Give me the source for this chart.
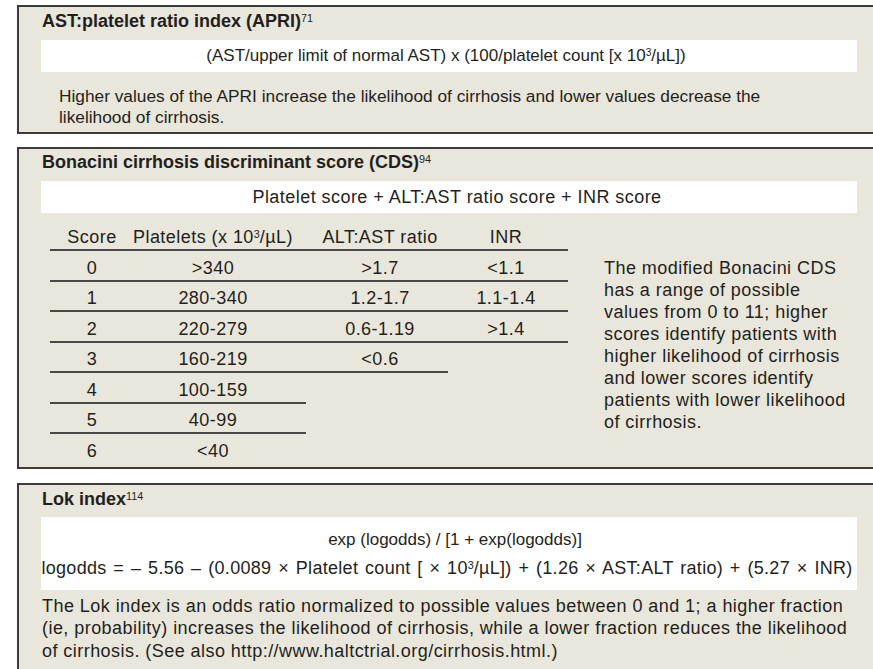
<!DOCTYPE html>
<html>
<head>
<meta charset="utf-8">
<script src="https://cdn.jsdelivr.net/npm/chart.js@4.4.1/dist/chart.umd.min.js"></script>
<style>
  html,body{margin:0;padding:0;background:#fff;}
  body{width:873px;height:669px;position:relative;overflow:hidden;font-family:"Liberation Sans",Arial,sans-serif;color:#231f20;}
  .box{position:absolute;left:17px;width:880px;background:#e9e6db;border:2px solid #3c3b3a;box-sizing:border-box;}
  .band{position:absolute;left:41px;width:816px;background:#fff;}
  .t{position:absolute;white-space:nowrap;line-height:20px;}
  .c{transform:translateX(-50%);text-align:center;}
  sup{font-size:0.6em;vertical-align:top;position:relative;top:-3px;font-weight:normal;letter-spacing:0;}
  .hl{position:absolute;height:2px;background:#4a4847;}
</style>
</head>
<body>
<script>
// ---- data ----
const scores = ["0","1","2","3","4","5","6"];
const platelets = [">340","280-340","220-279","160-219","100-159","40-99","<40"];
const altAstRatio = [">1.7","1.2-1.7","0.6-1.19","<0.6","","",""];
const inr = ["<1.1","1.1-1.4",">1.4","","","",""];
const headers = ["Score","Platelets (x 10<sup>3</sup>/µL)","ALT:AST ratio","INR"];
const colCenters = [92, 213, 380, 506];
const rowLineEnds = [568, 568, 568, 448, 306, 306];
</script>

<div class="box" style="top:5px;height:129px;"></div>
<div class="box" style="top:147px;height:322px;"></div>
<div class="box" style="top:483px;height:220px;"></div>
<div class="band" style="top:40px;height:32px;"></div>
<div class="band" style="top:181px;height:32px;"></div>
<div class="band" style="top:517px;height:73px;"></div>
<div id="layer"></div>

<script>
(function(){
  const layer = document.getElementById('layer');
  const esc = s => s.replace(/</g,'&lt;').replace(/>/g,'&gt;');
  // place text so that its baseline sits at y
  function put(html, x, baseY, size, opts={}){
    const lh = opts.lh || 20;
    const off = (lh - 1.117*size)/2 + 0.905*size;
    const d = document.createElement('div');
    d.className = 't' + (opts.center ? ' c' : '');
    d.style.left = x + 'px';
    d.style.top = (baseY - off) + 'px';
    d.style.fontSize = size + 'px';
    d.style.lineHeight = lh + 'px';
    if (opts.bold) d.style.fontWeight = 'bold';
    if (opts.ls) d.style.letterSpacing = opts.ls + 'px';
    if (opts.ws) d.style.wordSpacing = opts.ws + 'px';
    d.innerHTML = html;
    layer.appendChild(d);
  }
  function line(x1, x2, y){
    const d = document.createElement('div');
    d.className = 'hl';
    d.style.left = x1 + 'px'; d.style.width = (x2 - x1) + 'px'; d.style.top = (y - 1) + 'px';
    layer.appendChild(d);
  }
  // Box 1 : APRI
  put('AST:platelet ratio index (APRI)<sup>71</sup>', 42, 27, 18, {bold:true});
  put('(AST/upper limit of normal AST) x (100/platelet count [x 10<sup>3</sup>/µL])', 446, 62, 17, {center:true});
  put('Higher values of the APRI increase the likelihood of cirrhosis and lower values decrease the<br>likelihood of cirrhosis.', 59, 102, 17.3, {lh:21});

  // Box 2 : Bonacini CDS
  put('Bonacini cirrhosis discriminant score (CDS)<sup>94</sup>', 42, 168, 18, {bold:true});
  put('Platelet score + ALT:AST ratio score + INR score', 457, 203.5, 18, {center:true, ls:0.45});
  const ls = 0.45, fs = 18;
  headers.forEach((h,i)=> put(h, colCenters[i], 243, fs, {center:true, ls}));
  line(50, 568, 250);
  const cols = [scores, platelets, altAstRatio, inr];
  const rowH = 30.5;
  scores.forEach((s,r)=>{
    const base = 274 + r*rowH;
    cols.forEach((c,i)=>{ if (c[r]) put(esc(c[r]), colCenters[i], base, fs, {center:true, ls}); });
    if (r < rowLineEnds.length) line(50, rowLineEnds[r], 250 + (r+1)*rowH);
  });
  put('The modified Bonacini CDS<br>has a range of possible<br>values from 0 to 11; higher<br>scores identify patients with<br>higher likelihood of cirrhosis<br>and lower scores identify<br>patients with lower likelihood<br>of cirrhosis.', 604, 274, fs, {lh:22, ls});

  // Box 3 : Lok index
  put('Lok index<sup>114</sup>', 42, 505, 18, {bold:true});
  put('exp (logodds) / [1 + exp(logodds)]', 455, 546, 17, {center:true});
  put('logodds = – 5.56 – (0.0089 × Platelet count [ × 10<sup>3</sup>/µL]) + (1.26 × AST:ALT ratio) + (5.27 × INR)', 447, 574.5, 18, {center:true, ls:0.3, ws:1.5});
  put('The Lok index is an odds ratio normalized to possible values between 0 and 1; a higher fraction<br>(ie, probability) increases the likelihood of cirrhosis, while a lower fraction reduces the likelihood<br>of cirrhosis. (See also http://www.haltctrial.org/cirrhosis.html.)', 42, 612, 18, {lh:22.5, ls});
})();
</script>
</body>
</html>
